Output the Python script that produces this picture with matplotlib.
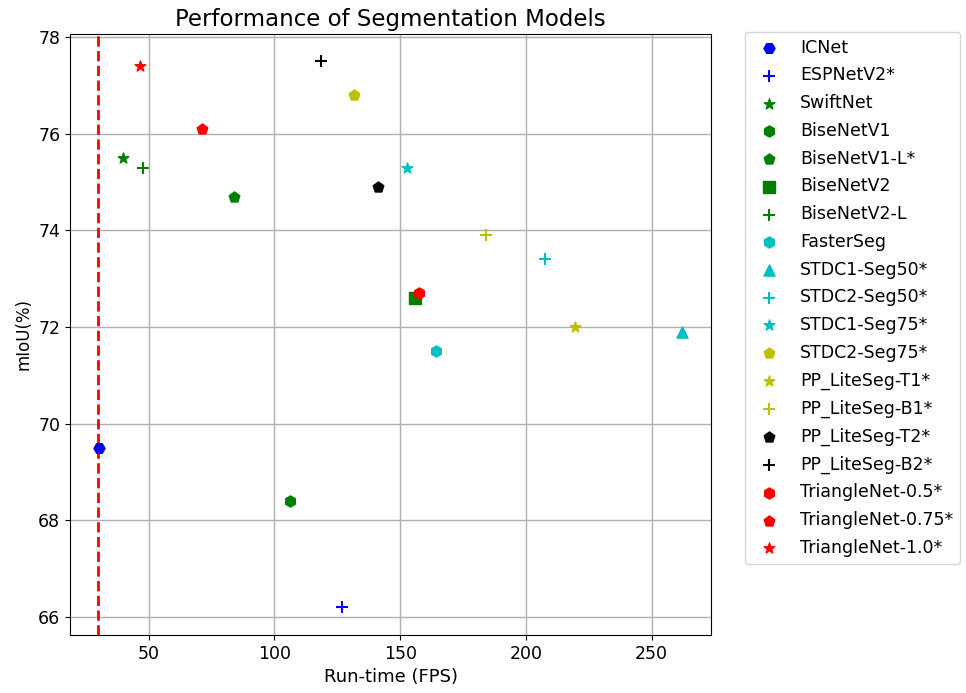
import matplotlib
matplotlib.use('Agg')
import matplotlib.pyplot as plt

# Models, speed (FPS) and accuracy (mIoU %)
models = ['ICNet', 'ESPNetV2*', 'SwiftNet', 'BiseNetV1', 'BiseNetV1-L*',
          'BiseNetV2', 'BiseNetV2-L', 'FasterSeg', 'STDC1-Seg50*',
          'STDC2-Seg50*', 'STDC1-Seg75*', 'STDC2-Seg75*', 'PP_LiteSeg-T1*',
          'PP_LiteSeg-B1*', 'PP_LiteSeg-T2*', 'PP_LiteSeg-B2*',
          'TriangleNet-0.5*', 'TriangleNet-0.75*', 'TriangleNet-1.0*']
fps = [30.3, 126.7, 39.9, 106.0, 84.1, 156.0, 47.6, 164.3, 262.0,
       207.5, 152.8, 131.7, 219.4, 184.1, 141.3, 118.7, 157.5, 71.0, 46.4]
miou = [69.5, 66.2, 75.5, 68.4, 74.7, 72.6, 75.3, 71.5, 71.9,
        73.4, 75.3, 76.8, 72.0, 73.9, 74.9, 77.5, 72.7, 76.1, 77.4]
markers = ['H', '+', '*', 'h', 'p', 's', '+', 'h', '^',
           '+', '*', 'p', '*', '+', 'p', '+', 'h', 'p', '*']
colors = ['b', 'b', 'g', 'g', 'g', 'g', 'g', 'c', 'c',
          'c', 'c', 'y', 'y', 'y', 'k', 'k', 'r', 'r', 'r']

realtime_fps = 30

fig = plt.figure(figsize=(9.66, 6.93), dpi=100)
ax = fig.add_subplot(111)
for name, x, y, m, c in zip(models, fps, miou, markers, colors):
    ax.scatter(x, y, s=64, marker=m, color=c, label=name, zorder=3)

ax.axvline(realtime_fps, color='r', linestyle='--', linewidth=2, zorder=2)
ax.grid(True, linewidth=1)
ax.set_axisbelow(True)
ax.set_title('Performance of Segmentation Models', fontsize=16.5)
ax.set_xlabel('Run-time (FPS)', fontsize=13)
ax.set_ylabel('mIoU(%)', fontsize=12)
ax.tick_params(labelsize=12.5)
ax.legend(loc='upper left', bbox_to_anchor=(1.039, 1.018), fontsize=12.5,
          labelspacing=0.56)

fig.subplots_adjust(left=0.0725, right=0.736, top=0.951, bottom=0.084)
fig.savefig('out.png', dpi=100)
